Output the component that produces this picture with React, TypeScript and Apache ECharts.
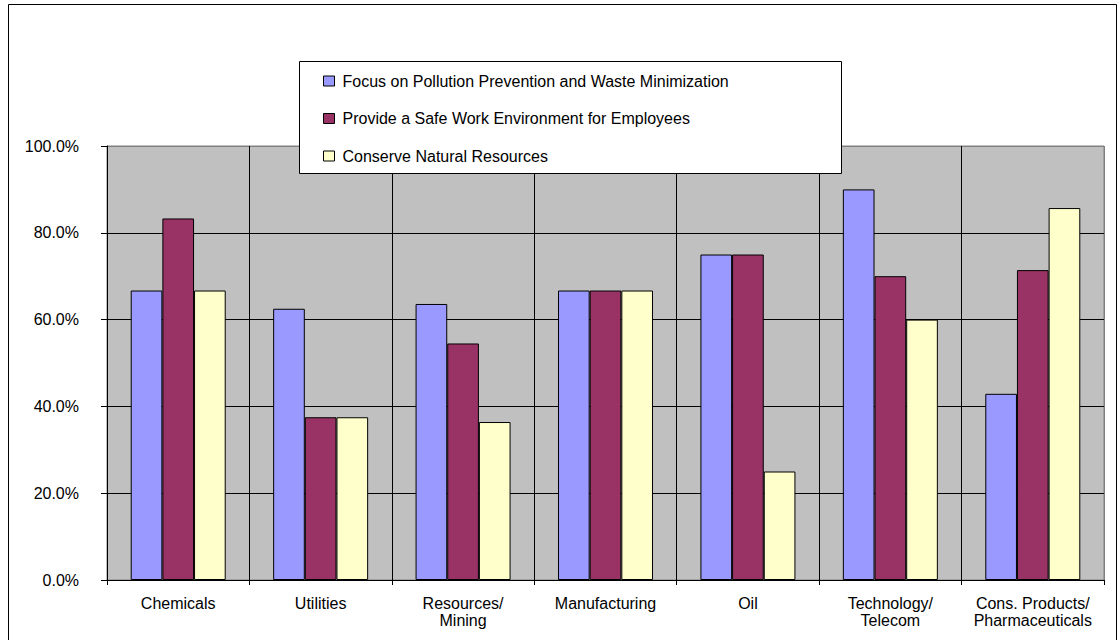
import React, { useEffect, useRef } from "react";
import * as echarts from "echarts";

const categories = [
  "Chemicals",
  "Utilities",
  "Resources/\nMining",
  "Manufacturing",
  "Oil",
  "Technology/\nTelecom",
  "Cons. Products/\nPharmaceuticals",
];

const seriesNames = [
  "Focus on Pollution Prevention and Waste Minimization",
  "Provide a Safe Work Environment for Employees",
  "Conserve Natural Resources",
];

const pollution = [0.667, 0.625, 0.636, 0.667, 0.75, 0.9, 0.429];
const safeWork = [0.833, 0.375, 0.545, 0.667, 0.75, 0.7, 0.714];
const conserve = [0.667, 0.375, 0.364, 0.667, 0.25, 0.6, 0.857];

const colors = ["#9999FF", "#993366", "#FFFFCC"];
const FONT = "'Liberation Sans', Arial, sans-serif";

export default function App() {
  const ref = useRef<HTMLDivElement>(null);
  useEffect(() => {
    if (!ref.current) return;
    const chart = echarts.init(ref.current, null, { renderer: "svg" });
    const values = [pollution, safeWork, conserve];
    chart.setOption({
      animation: false,
      backgroundColor: "#ffffff",
      textStyle: { fontFamily: FONT },
      grid: {
        left: 107,
        top: 146,
        width: 997,
        height: 434,
        show: true,
        backgroundColor: "#C0C0C0",
        borderColor: "#808080",
        borderWidth: 1,
      },
      graphic: [
        {
          type: "rect",
          shape: { x: 8.5, y: 4.5, width: 1108, height: 640 },
          style: { fill: "none", stroke: "#000", lineWidth: 1 },
          z: 0,
        },
        {
          type: "rect",
          shape: { x: 299.5, y: 61.5, width: 542, height: 112 },
          style: { fill: "#fff", stroke: "#000", lineWidth: 1 },
          z: 50,
        },
      ],
      legend: {
        orient: "vertical",
        left: 318,
        top: 68,
        itemWidth: 11,
        itemHeight: 10,
        itemGap: 21.5,
        icon: "rect",
        z: 60,
        itemStyle: { borderColor: "#000", borderWidth: 1 },
        textStyle: { fontFamily: FONT, fontSize: 16, color: "#000", lineHeight: 14, padding: [0, 0, 0, 3] },
        data: seriesNames,
      },
      xAxis: {
        type: "category",
        data: categories,
        axisLine: { lineStyle: { color: "#000", width: 1 } },
        axisTick: { show: true, length: 5, lineStyle: { color: "#000" } },
        axisLabel: {
          fontFamily: FONT,
          fontSize: 16,
          color: "#000",
          margin: 15,
          lineHeight: 17,
          interval: 0,
        },
        splitLine: {
          show: true,
          lineStyle: {
            color: ["#000", "#000", "#000", "#000", "#000", "#000", "#000", "#808080"],
            width: 1,
          },
        },
      },
      yAxis: {
        type: "value",
        min: 0,
        max: 1,
        interval: 0.2,
        axisLine: { show: true, lineStyle: { color: "#000", width: 1 } },
        axisTick: { show: true, length: 6, lineStyle: { color: "#000" } },
        axisLabel: {
          fontFamily: FONT,
          fontSize: 16,
          color: "#000",
          margin: 28,
          formatter: (v: number) => (v * 100).toFixed(1) + "%",
        },
        splitLine: {
          show: true,
          lineStyle: {
            color: ["#000", "#000", "#000", "#000", "#000", "#808080"],
            width: 1,
          },
        },
      },
      series: seriesNames.map((name, i) => ({
        name,
        type: "bar",
        data: values[i],
        barGap: "0%",
        barCategoryGap: "33.3%",
        itemStyle: { color: colors[i], borderColor: "#000", borderWidth: 1 },
      })),
    });
    return () => chart.dispose();
  }, []);
  return (
    <div
      ref={ref}
      style={{ position: "absolute", left: 0, top: 0, width: 1118, height: 640 }}
    />
  );
}
